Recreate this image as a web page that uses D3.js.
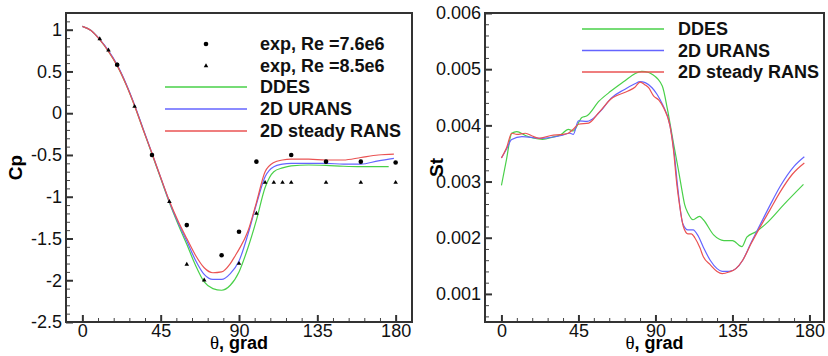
<!DOCTYPE html>
<html>
<head>
<meta charset="utf-8">
<script src="https://cdn.jsdelivr.net/npm/d3@7"></script>
<style>
  body { margin: 0; background: #fff; }
  svg { display: block; font-family: "Liberation Sans", Arial, sans-serif; }
</style>
</head>
<body>
<div id="chart"></div>
<script>
// Cp along the cylinder surface
var cpThetaDDES  = [0, 5, 10, 15, 20, 25, 30, 35, 40, 45, 50, 55, 60, 65, 70, 75, 80, 85, 90, 95, 100, 105, 110, 115, 120, 130, 140, 150, 160, 170, 176];
var cpDDES       = [1.04, 0.99, 0.88, 0.74, 0.57, 0.35, 0.09, -0.2, -0.49, -0.78, -1.07, -1.33, -1.57, -1.82, -2.02, -2.1, -2.12, -2.06, -1.9, -1.62, -1.28, -0.89, -0.70, -0.655, -0.63, -0.62, -0.625, -0.635, -0.64, -0.64, -0.64];
var cpThetaURANS = [0, 5, 10, 15, 20, 25, 30, 35, 40, 45, 50, 55, 60, 65, 70, 75, 80, 85, 90, 95, 100, 105, 110, 115, 120, 130, 140, 150, 160, 170, 179];
var cpURANS      = [1.04, 0.99, 0.885, 0.75, 0.58, 0.36, 0.1, -0.19, -0.48, -0.77, -1.06, -1.31, -1.53, -1.76, -1.93, -1.99, -1.99, -1.92, -1.77, -1.46, -1.09, -0.76, -0.64, -0.61, -0.6, -0.6, -0.6, -0.61, -0.61, -0.57, -0.54];
var cpThetaRANS  = [0, 5, 10, 15, 20, 25, 30, 35, 40, 45, 50, 55, 60, 65, 70, 75, 80, 85, 88, 90, 95, 100, 105, 110, 115, 120, 130, 140, 150, 160, 170, 179];
var cpRANS       = [1.04, 0.99, 0.88, 0.74, 0.57, 0.35, 0.09, -0.2, -0.48, -0.77, -1.05, -1.29, -1.5, -1.7, -1.85, -1.91, -1.9, -1.8, -1.7, -1.63, -1.42, -1.07, -0.7, -0.59, -0.56, -0.55, -0.55, -0.56, -0.56, -0.53, -0.5, -0.49];

var expTheta76 = [20, 40, 60, 80, 90, 100, 120, 140, 160, 180];
var expCp76    = [0.58, -0.5, -1.34, -1.70, -1.42, -0.58, -0.50, -0.58, -0.58, -0.59];
var expTheta85 = [10, 15, 20, 30, 50, 60, 70, 90, 100, 105, 110, 115, 120, 140, 160, 180];
var expCp85    = [0.89, 0.755, 0.58, 0.08, -1.06, -1.81, -2.0, -1.80, -1.20, -0.83, -0.83, -0.83, -0.83, -0.83, -0.83, -0.83];

// Strouhal number
var stThetaDDES  = [0, 3, 6, 9, 14, 19, 24, 30, 35, 39, 42, 47, 50, 57, 64, 72, 78, 82, 86, 88, 94, 97, 100.5, 103.4, 105.4, 107, 109, 112, 115.7, 118, 124, 130, 135, 140.5, 143.4, 149, 155, 165, 176.5];
var stDDES       = [0.00293, 0.0034, 0.00386, 0.00389, 0.00382, 0.00377, 0.00375, 0.00379, 0.00384, 0.00393, 0.0039, 0.00414, 0.00417, 0.00443, 0.00461, 0.00479, 0.00492, 0.00496, 0.00494, 0.00491, 0.0047, 0.00429, 0.00369, 0.00321, 0.00286, 0.0026, 0.00244, 0.00232, 0.00238, 0.00232, 0.00205, 0.00195, 0.00195, 0.00184, 0.00201, 0.00211, 0.00226, 0.00259, 0.00295];
var stThetaURANS = [0, 3, 6, 12, 23, 35, 40, 42, 45, 50, 53, 59, 64, 72, 78, 81, 84, 88, 91, 94, 98.5, 101, 103, 106, 109, 112, 115, 118, 122, 126, 129, 133, 137, 141, 146, 151, 157, 163, 171, 177];
var stURANS      = [0.00342, 0.00358, 0.00375, 0.0038, 0.00377, 0.00382, 0.00386, 0.00384, 0.00408, 0.00407, 0.00411, 0.00429, 0.00448, 0.00464, 0.00474, 0.00478, 0.00476, 0.00467, 0.00455, 0.00438, 0.004, 0.0035, 0.0029, 0.00225, 0.00214, 0.00214, 0.00203, 0.00183, 0.0016, 0.00145, 0.0014, 0.0014, 0.00145, 0.0016, 0.00192, 0.00222, 0.00258, 0.00292, 0.00327, 0.00344];
var stThetaRANS  = [0, 3, 6, 9, 14, 18, 22, 29, 36, 39, 42, 45, 51, 57, 64, 74, 78, 81, 84, 86, 89, 92, 95, 98.5, 100.5, 102.5, 104, 106.3, 109, 111, 113, 116, 118, 122, 126, 129, 133, 137, 141, 146, 151, 157, 163, 170, 177];
var stRANS       = [0.00342, 0.0036, 0.00386, 0.00384, 0.00386, 0.00381, 0.00377, 0.00382, 0.00384, 0.00386, 0.00393, 0.00402, 0.00404, 0.00423, 0.00447, 0.00461, 0.00468, 0.00477, 0.00472, 0.00467, 0.00452, 0.00445, 0.0043, 0.00399, 0.00357, 0.00295, 0.0026, 0.0022, 0.00207, 0.00207, 0.002, 0.00182, 0.00166, 0.00152, 0.0014, 0.00136, 0.00139, 0.00145, 0.0016, 0.0019, 0.00218, 0.0025, 0.00282, 0.00313, 0.00333];

var thetaTicks = [0, 45, 90, 135, 180];
var cpTicks = [-2.5, -2, -1.5, -1, -0.5, 0, 0.5, 1];
var stTicks = [0.001, 0.002, 0.003, 0.004, 0.005, 0.006];

var green = "#49d049", blue = "#6464ff", red = "#ea5353";

document.addEventListener("DOMContentLoaded", function() {
  var svg = d3.select("#chart").append("svg")
      .attr("width", 828)
      .attr("height", 356);

  function zip(xs, ys) {
    return xs.map((x, i) => [x, ys[i]]);
  }

  function panel(opt) {
    var x = d3.scaleLinear().domain(opt.xDomain).range([opt.left, opt.right]);
    var y = d3.scaleLinear().domain(opt.yDomain).range([opt.bottom, opt.top]);
    var g = svg.append("g");

    var xMinor = d3.range(9, 180, 9).filter(d => d % 45 != 0);
    g.append("g")
      .attr("transform", "translate(0," + opt.bottom + ")")
      .call(d3.axisBottom(x).tickValues(xMinor).tickSize(-4).tickSizeOuter(0).tickFormat(""))
      .call(a => a.select(".domain").remove())
      .selectAll("line").attr("stroke", "#444").attr("stroke-width", 1);
    g.append("g")
      .attr("transform", "translate(" + opt.left + ",0)")
      .call(d3.axisLeft(y).tickValues(opt.yMinor).tickSize(-4).tickSizeOuter(0).tickFormat(""))
      .call(a => a.select(".domain").remove())
      .selectAll("line").attr("stroke", "#444").attr("stroke-width", 1);

    var xa = g.append("g")
      .attr("transform", "translate(0," + opt.bottom + ")")
      .call(d3.axisBottom(x).tickValues(thetaTicks).tickSize(-7).tickSizeOuter(0).tickPadding(2).tickFormat(d => String(d)));
    var ya = g.append("g")
      .attr("transform", "translate(" + opt.left + ",0)")
      .call(d3.axisLeft(y).tickValues(opt.yTicks).tickSize(-7).tickSizeOuter(0).tickPadding(4).tickFormat(d => String(d)));
    [xa, ya].forEach(function(a) {
      a.select(".domain").remove();
      a.selectAll("line").attr("stroke", "#333").attr("stroke-width", 2);
      a.selectAll("text").attr("fill", "#111").style("font-size", "18px")
        .style("font-family", '"Liberation Sans", Arial, sans-serif');
    });

    g.append("rect")
      .attr("x", opt.left).attr("y", opt.top)
      .attr("width", opt.right - opt.left).attr("height", opt.bottom - opt.top)
      .attr("fill", "none").attr("stroke", "#333").attr("stroke-width", 2);

    var line = d3.line()
        .x(d => x(d[0]))
        .y(d => y(d[1]))
        .curve(d3.curveMonotoneX);

    opt.series.forEach(function(s) {
      g.append("path")
        .attr("fill", "none")
        .attr("stroke", s.color)
        .attr("stroke-width", 1.2)
        .attr("d", line(s.data));
    });

    // axis titles
    var xt = g.append("text")
      .attr("x", (opt.left + opt.right) / 2)
      .attr("y", 349)
      .attr("text-anchor", "middle")
      .style("font-size", "18px")
      .style("font-weight", "bold");
    xt.append("tspan").style("font-family", '"Liberation Serif", serif').style("font-weight", "normal").style("font-size", "19px").text("θ");
    xt.append("tspan").text(", grad");

    g.append("text")
      .attr("transform", "translate(" + opt.yLabelX + "," + ((opt.top + opt.bottom) / 2) + ") rotate(-90)")
      .attr("text-anchor", "middle")
      .style("font-size", "19px")
      .style("font-weight", "bold")
      .text(opt.yLabel);

    return {x: x, y: y, g: g};
  }

  var left = panel({
    left: 66, right: 412, top: 13, bottom: 322,
    xDomain: [-9.4, 189.4], yDomain: [-2.5, 1.2],
    yTicks: cpTicks,
    yMinor: d3.range(-24, 12).map(d => d / 10).filter(d => Math.abs(d * 2 - Math.round(d * 2)) > 1e-6),
    yLabel: "Cp", yLabelX: 22,
    series: [
      {color: green, data: zip(cpThetaDDES, cpDDES)},
      {color: blue, data: zip(cpThetaURANS, cpURANS)},
      {color: red, data: zip(cpThetaRANS, cpRANS)}
    ]
  });

  left.g.selectAll(".exp76")
    .data(zip(expTheta76, expCp76))
    .join("circle")
    .attr("cx", d => left.x(d[0]))
    .attr("cy", d => left.y(d[1]))
    .attr("r", 2.3)
    .attr("fill", "#000");

  var tri = d3.symbol().type(d3.symbolTriangle).size(9);
  left.g.selectAll(".exp85")
    .data(zip(expTheta85, expCp85))
    .join("path")
    .attr("transform", d => "translate(" + left.x(d[0]) + "," + left.y(d[1]) + ")")
    .attr("d", tri())
    .attr("fill", "#000");

  var right = panel({
    left: 485, right: 824, top: 13, bottom: 322,
    xDomain: [-9.6, 188.5], yDomain: [0.0005, 0.006],
    yTicks: stTicks,
    yMinor: d3.range(3, 30).map(d => d * 0.0002).filter(d => Math.abs(d * 1000 - Math.round(d * 1000)) > 1e-6),
    yLabel: "St", yLabelX: 443,
    series: [
      {color: green, data: zip(stThetaDDES, stDDES)},
      {color: blue, data: zip(stThetaURANS, stURANS)},
      {color: red, data: zip(stThetaRANS, stRANS)}
    ]
  });

  // legends
  function legendText(x, y, t) {
    svg.append("text")
      .attr("x", x).attr("y", y).attr("dy", "0.35em")
      .style("font-size", "18px")
      .style("font-weight", "bold")
      .attr("fill", "#111")
      .text(t);
  }
  function legendLine(x1, x2, y, c) {
    svg.append("line")
      .attr("x1", x1).attr("x2", x2).attr("y1", y).attr("y2", y)
      .attr("stroke", c).attr("stroke-width", 1.6);
  }

  svg.append("circle").attr("cx", 206).attr("cy", 44).attr("r", 2.3).attr("fill", "#000");
  legendText(260, 44, "exp, Re =7.6e6");
  svg.append("path").attr("transform", "translate(206,66)").attr("d", tri()).attr("fill", "#000");
  legendText(260, 66, "exp, Re =8.5e6");
  var leftNames = [["DDES", green], ["2D URANS", blue], ["2D steady RANS", red]];
  leftNames.forEach(function(d, i) {
    legendLine(165, 247, 87 + i * 22, d[1]);
    legendText(260, 87 + i * 22, d[0]);
  });
  leftNames.forEach(function(d, i) {
    legendLine(582, 664, 29 + i * 21.5, d[1]);
    legendText(678, 29 + i * 21.5, d[0]);
  });
});
</script>
</body>
</html>
